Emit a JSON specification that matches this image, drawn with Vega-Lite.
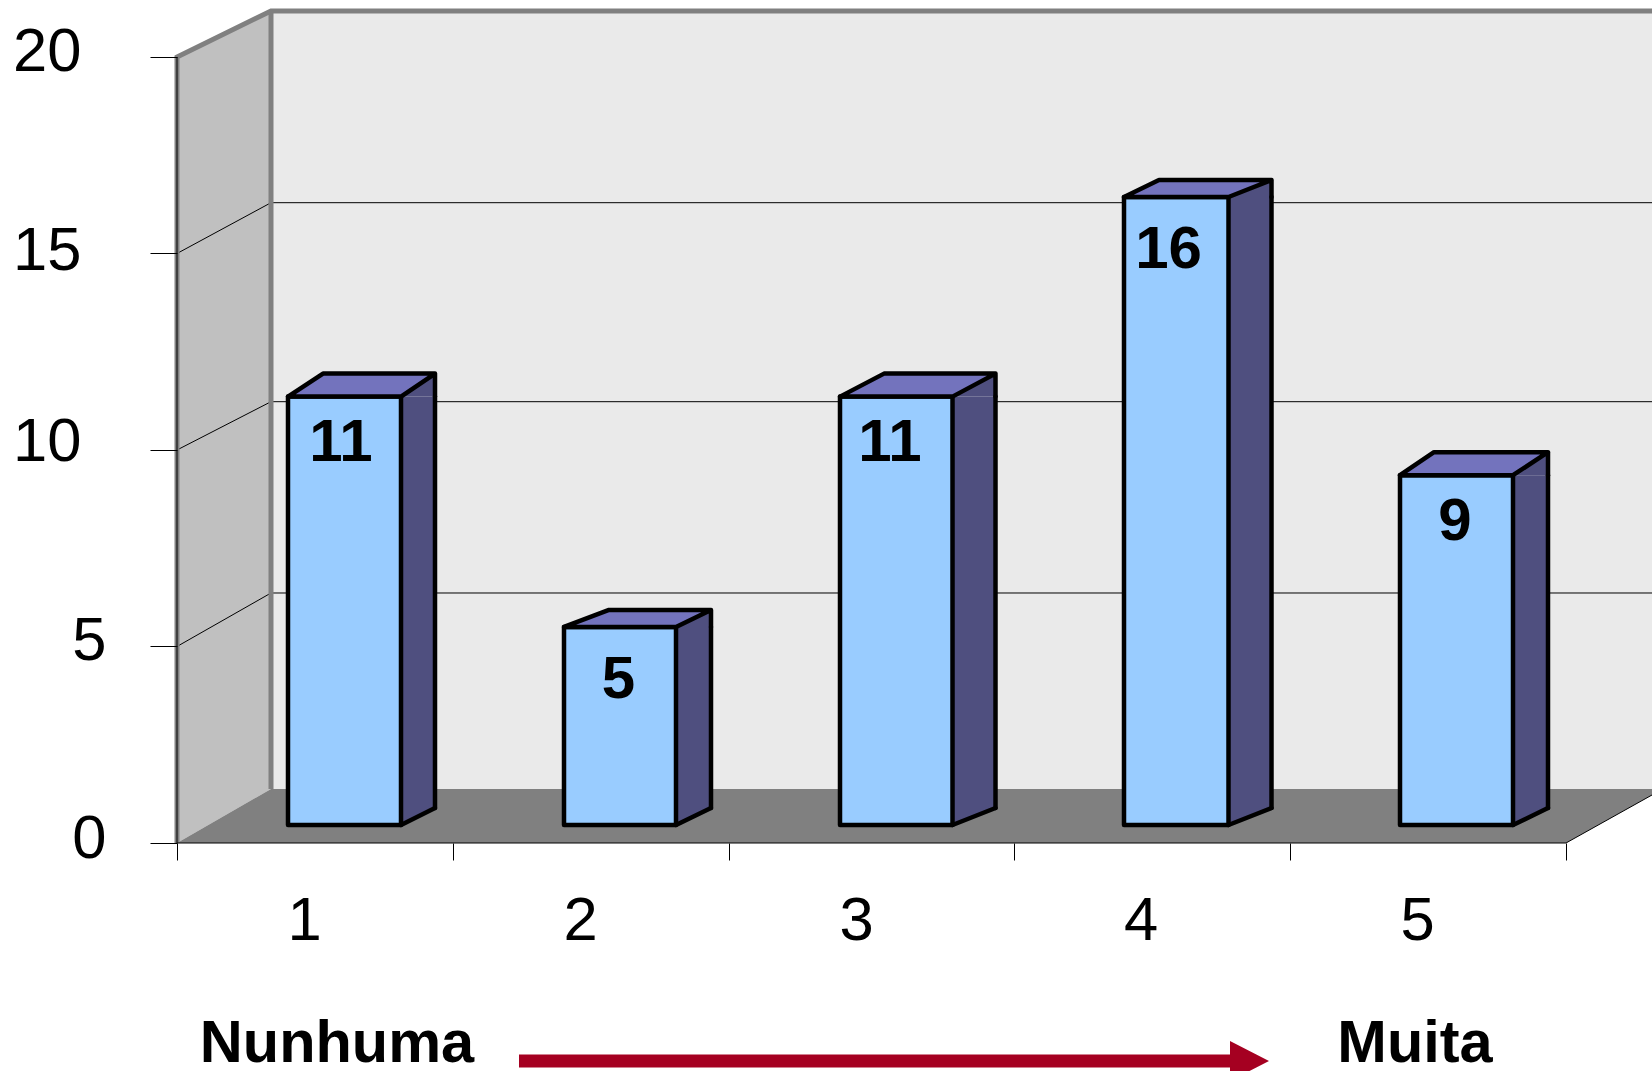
{
"$schema":"https://vega.github.io/schema/vega-lite/v6.json",
"width":1475,"height":843,"autosize":"none",
"padding":{"left":177,"top":0,"right":0,"bottom":228},
"background":"white",
"config":{"view":{"stroke":null}},
"datasets":{
"bars":[{"cat":1,"value":11,"level":10.9},{"cat":2,"value":5,"level":5.04},{"cat":3,"value":11,"level":10.9},{"cat":4,"value":16,"level":15.98},{"cat":5,"value":9,"level":8.9}],
"ticks":[{"tick":5},{"tick":10},{"tick":15}],
"scene":[{"part":"chart"}]
},
"resolve":{"scale":{"x":"independent","shape":"independent","size":"independent"}},
"layer":[
{"data":{"name":"scene"},"mark":{"type":"point","shape":"M94,-832 L1500,-832 L1500,-54 L94,-54 Z","size":4,"filled":true,"fill":"#EAEAEA","opacity":1,"stroke":null},
"encoding":{
"x":{"datum":1,"type":"quantitative","scale":{"domain":[1,2,3,4,5,6,6.31],"range":[0,276,552,836.5,1113,1389,1475]},
"axis":{"values":[1,2,3,4,5,6],"title":null,"domain":false,"grid":false,"tickColor":"#000000","tickWidth":1,"tickSize":17,"labelExpr":"datum.value<6?format(datum.value,'d'):''","labelFont":"Liberation Sans","labelFontSize":61.5,"labelColor":"#000000","labelOffset":127,"labelPadding":30,"labelOverlap":false,"labelFlush":false,"zindex":1}},
"y":{"datum":0,"type":"quantitative","scale":{"domain":[0,21.45],"nice":false,"zero":false},
"axis":{"values":[0,5,10,15,20],"title":null,"domain":false,"grid":false,"tickColor":"#000000","tickWidth":1,"tickSize":27,"format":"d","labelFont":"Liberation Sans","labelFontSize":61.5,"labelColor":"#000000","labelAlign":"right","labelBaseline":"middle",
"labelPadding":{"condition":{"test":"datum.value<10","value":44},"value":69},
"labelOffset":{"condition":[{"test":"datum.value==15","value":-2},{"test":"datum.value==10","value":-7},{"test":"datum.value==5","value":-5}],"value":-4},
"labelOverlap":false,"labelFlush":false,"zindex":1}}
}},
{"data":{"name":"scene"},"mark":{"type":"point","shape":"M0,-786 L94,-832 L94,-54 L0,0 Z","size":4,"filled":true,"fill":"#C0C0C0","opacity":1,"stroke":null},
"encoding":{"x":{"datum":1,"type":"quantitative","scale":{"domain":[1,6],"range":[0,1389]},"axis":null},"y":{"datum":0,"type":"quantitative"}}},
{"data":{"name":"scene"},"mark":{"type":"point","shape":"M0,0 L94,-54 L1475,-54 L1475,-48 L1389,0 Z","size":4,"filled":true,"fill":"#808080","opacity":1,"stroke":null},
"encoding":{"x":{"datum":1,"type":"quantitative","scale":{"domain":[1,6],"range":[0,1389]},"axis":null},"y":{"datum":0,"type":"quantitative"}}},
{"data":{"name":"ticks"},"mark":{"type":"point","size":4,"filled":false,"stroke":"#000000","strokeWidth":1,"opacity":1},
"encoding":{"x":{"datum":1,"type":"quantitative","scale":{"domain":[1,6],"range":[0,1389]},"axis":null},"y":{"field":"tick","type":"quantitative"},
"shape":{"field":"tick","type":"nominal","legend":null,"scale":{"domain":[5,10,15],"range":["M0,0 L94,-53.5 L1475,-53.5","M0,0 L94,-48.3 L1475,-48.3","M0,0 L94,-50.8 L1475,-50.8"]}}}},
{"data":{"name":"scene"},"mark":{"type":"point","shape":"M0,0 L0,-786 L94,-832 L1500,-832 M94,-832 L94,-54","size":4,"filled":false,"stroke":"#808080","strokeWidth":5,"opacity":1},
"encoding":{"x":{"datum":1,"type":"quantitative","scale":{"domain":[1,6],"range":[0,1389]},"axis":null},"y":{"datum":0,"type":"quantitative"}}},
{"data":{"name":"scene"},"mark":{"type":"point","shape":"M0,-786 L0,0 L1389,0 L1475,-48","size":4,"filled":false,"stroke":"#000000","strokeWidth":1,"opacity":1},
"encoding":{"x":{"datum":1,"type":"quantitative","scale":{"domain":[1,6],"range":[0,1389]},"axis":null},"y":{"datum":0,"type":"quantitative"}}},
{"data":{"name":"bars"},"mark":{"type":"bar","orient":"vertical","fill":"#4F4F7F","yOffset":-18,"y2Offset":-35},
"encoding":{"x":{"field":"cat","type":"quantitative","scale":{"domain":[1,2,3,4,5],"range":[241,516.5,797,1073,1353.5],"padding":0},"axis":null},"y":{"field":"level","type":"quantitative"},"y2":{"datum":0},
"size":{"field":"cat","type":"quantitative","legend":null,"scale":{"domain":[1,2,3,4,5],"range":[34,35,43,43,35],"zero":false}}}},
{"data":{"name":"bars"},"mark":{"type":"point","size":4,"filled":true,"fill":"#4F4F7F","opacity":1,"stroke":null},
"encoding":{"x":{"field":"cat","type":"quantitative","scale":{"domain":[1,2,3,4,5],"range":[0,276,552,836.5,1113]},"axis":null},"y":{"field":"level","type":"quantitative"},
"shape":{"field":"cat","type":"nominal","legend":null,"scale":{"domain":[1,2,3,4,5],"range":["M224,-18 L258,-41 L258,-18 Z","M223,-18 L258,-35 L258,-18 Z","M223.5,-18 L266.5,-41 L266.5,-18 Z","M215,-18 L258,-35 L258,-18 Z","M223,-18 L258,-41 L258,-18 Z"]}}}},
{"data":{"name":"bars"},"mark":{"type":"point","size":4,"filled":true,"fill":"#4F4F7F","opacity":1,"stroke":null},
"encoding":{"x":{"field":"cat","type":"quantitative","scale":{"domain":[1,2,3,4,5],"range":[0,276,552,836.5,1113]},"axis":null},"y":{"datum":0,"type":"quantitative"},
"shape":{"field":"cat","type":"nominal","legend":null,"scale":{"domain":[1,2,3,4,5],"range":["M224,-18 L258,-35 L224,-35 Z","M223,-18 L258,-35 L223,-35 Z","M223.5,-18 L266.5,-35 L223.5,-35 Z","M215,-18 L258,-35 L215,-35 Z","M223,-18 L258,-35 L223,-35 Z"]}}}},
{"data":{"name":"bars"},"mark":{"type":"rule","stroke":"#000000","strokeWidth":4.5,"strokeCap":"round","yOffset":-18,"y2Offset":-35},
"encoding":{"x":{"field":"cat","type":"quantitative","scale":{"domain":[1,2,3,4,5],"range":[258,534,818.5,1094.5,1371]},"axis":null},"y":{"field":"level","type":"quantitative"},"y2":{"datum":0}}},
{"data":{"name":"bars"},"mark":{"type":"point","size":4,"filled":false,"stroke":"#000000","strokeWidth":4.5,"strokeCap":"round","opacity":1},
"encoding":{"x":{"field":"cat","type":"quantitative","scale":{"domain":[1,2,3,4,5],"range":[0,276,552,836.5,1113]},"axis":null},"y":{"datum":0,"type":"quantitative"},
"shape":{"field":"cat","type":"nominal","legend":null,"scale":{"domain":[1,2,3,4,5],"range":["M224,-18 L258,-35","M223,-18 L258,-35","M223.5,-18 L266.5,-35","M215,-18 L258,-35","M223,-18 L258,-35"]}}}},
{"data":{"name":"bars"},"mark":{"type":"bar","orient":"vertical","fill":"#99CCFF","stroke":"#000000","strokeWidth":4.5,"strokeJoin":"round","yOffset":-18,"y2Offset":-18},
"encoding":{"x":{"field":"cat","type":"quantitative","scale":{"domain":[1,2,3,4,5],"range":[167.5,443,719.25,999.25,1279.5],"padding":0},"axis":null},"y":{"field":"level","type":"quantitative"},"y2":{"datum":0},
"size":{"field":"cat","type":"quantitative","legend":null,"scale":{"domain":[1,2,3,4,5],"range":[113,112,112.5,104.5,113],"zero":false}}}},
{"data":{"name":"bars"},"mark":{"type":"point","size":4,"filled":true,"fill":"#7373BD","stroke":"#000000","strokeWidth":4.5,"strokeJoin":"round","strokeCap":"round","opacity":1},
"encoding":{"x":{"field":"cat","type":"quantitative","scale":{"domain":[1,2,3,4,5],"range":[0,276,552,836.5,1113]},"axis":null},"y":{"field":"level","type":"quantitative"},
"shape":{"field":"cat","type":"nominal","legend":null,"scale":{"domain":[1,2,3,4,5],"range":["M111,-18 L224,-18 L258,-41 L146,-41 Z M258,-41 L258,-18","M111,-18 L223,-18 L258,-35 L156,-35 Z M258,-35 L258,-18","M111,-18 L223.5,-18 L266.5,-41 L155,-41 Z M266.5,-41 L266.5,-18","M110.5,-18 L215,-18 L258,-35 L145.5,-35 Z M258,-35 L258,-18","M110,-18 L223,-18 L258,-41 L144,-41 Z M258,-41 L258,-18"]}}}},
{"data":{"name":"bars"},"transform":[{"filter":"datum.cat==1||datum.cat==3||datum.cat==5"}],"mark":{"type":"text","font":"Liberation Sans","fontSize":60,"fontWeight":"bold","fill":"#000000","align":"center","baseline":"alphabetic","dy":46.5},
"encoding":{"x":{"field":"cat","type":"quantitative","scale":{"domain":[1,2,3,4,5],"range":[164,441.5,713,991.5,1278]},"axis":null},"y":{"field":"level","type":"quantitative"},"text":{"field":"value","type":"quantitative"}}},
{"data":{"name":"bars"},"transform":[{"filter":"datum.cat==2||datum.cat==4"}],"mark":{"type":"text","font":"Liberation Sans","fontSize":60,"fontWeight":"bold","fill":"#000000","align":"center","baseline":"alphabetic","dy":53.5},
"encoding":{"x":{"field":"cat","type":"quantitative","scale":{"domain":[1,2,3,4,5],"range":[164,441.5,713,991.5,1278]},"axis":null},"y":{"field":"level","type":"quantitative"},"text":{"field":"value","type":"quantitative"}}},
{"data":{"name":"scene"},"mark":{"type":"text","text":"Nunhuma","font":"Liberation Sans","fontSize":59.5,"fontWeight":"bold","fill":"#000000","align":"center","baseline":"alphabetic","dx":160,"dy":218.7},
"encoding":{"x":{"datum":1,"type":"quantitative","scale":{"domain":[1,6],"range":[0,1389]},"axis":null},"y":{"datum":0,"type":"quantitative"}}},
{"data":{"name":"scene"},"mark":{"type":"text","text":"Muita","font":"Liberation Sans","fontSize":59.5,"fontWeight":"bold","fill":"#000000","align":"center","baseline":"alphabetic","dx":125,"dy":218.7},
"encoding":{"x":{"datum":5,"type":"quantitative","scale":{"domain":[1,5],"range":[0,1113]},"axis":null},"y":{"datum":0,"type":"quantitative"}}},
{"data":{"name":"scene"},"mark":{"type":"point","shape":"M342,211.5 L1053,211.5 L1053,198 L1092,218 L1053,238 L1053,224.5 L342,224.5 Z","size":4,"filled":true,"fill":"#A50021","opacity":1,"stroke":null},
"encoding":{"x":{"datum":1,"type":"quantitative","scale":{"domain":[1,6],"range":[0,1389]},"axis":null},"y":{"datum":0,"type":"quantitative"}}}
]
}
